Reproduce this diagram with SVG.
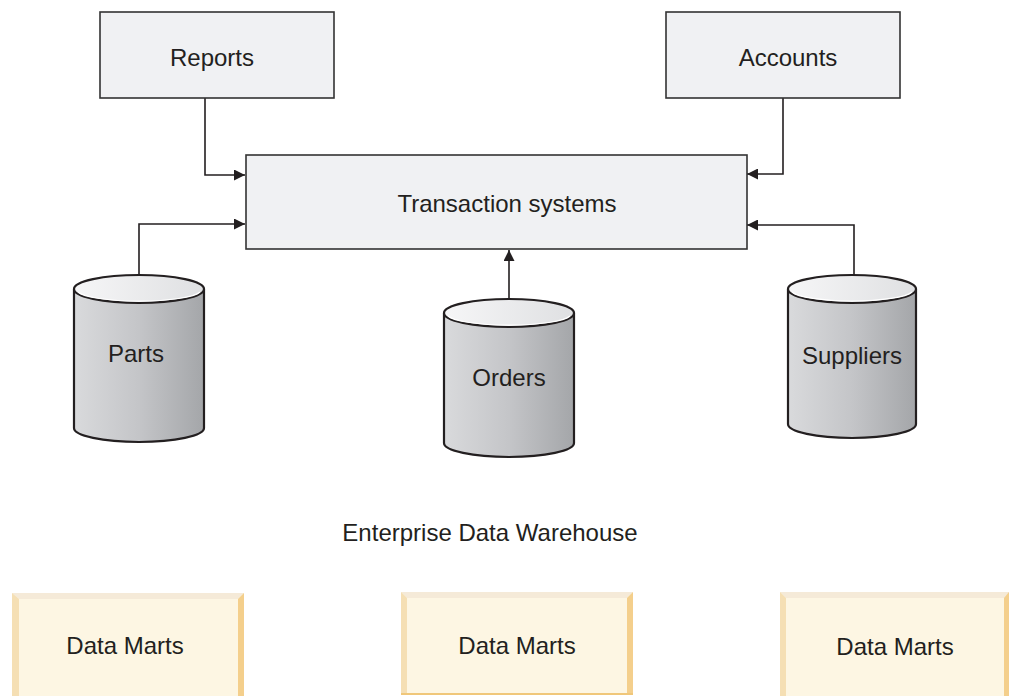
<svg xmlns="http://www.w3.org/2000/svg" width="1009" height="696" viewBox="0 0 1009 696">
  <defs>
    <linearGradient id="cylBody" x1="0" y1="0" x2="1" y2="0">
      <stop offset="0" stop-color="#d9dadc"/>
      <stop offset="0.5" stop-color="#c4c5c8"/>
      <stop offset="1" stop-color="#a4a6a9"/>
    </linearGradient>
    <linearGradient id="cylTop" x1="0" y1="0" x2="1" y2="0">
      <stop offset="0" stop-color="#f6f6f7"/>
      <stop offset="1" stop-color="#dfe0e2"/>
    </linearGradient>
    <marker id="arrow" viewBox="0 0 10 10" refX="10" refY="5" markerWidth="11" markerHeight="11" markerUnits="userSpaceOnUse" orient="auto">
      <path d="M0,0 L10,5 L0,10 z" fill="#231f20"/>
    </marker>
  </defs>
  <style>
    .box { fill: #f0f1f3; stroke: #333; stroke-width: 1.6; }
    .lbl { font-family: "Liberation Sans", Arial, sans-serif; font-size: 24px; fill: #231f20; text-anchor: middle; }
    .conn { fill: none; stroke: #231f20; stroke-width: 1.6; marker-end: url(#arrow); }
    .cyl-body { fill: url(#cylBody); stroke: #231f20; stroke-width: 2.2; }
    .cyl-top { fill: url(#cylTop); stroke: #231f20; stroke-width: 2.2; }
    .cyl-rim { fill: none; stroke: #ffffff; stroke-width: 1.2; }
    .dm-face { fill: #fdf6e3; }
    .dm-top { fill: #f5ead8; }
    .dm-left { fill: #f5dfb4; }
    .dm-right { fill: #f4cf8c; }
    .dm-bottom { fill: #f0c77a; }
  </style>

  <!-- connectors -->
  <g id="connectors">
    <path class="conn" d="M205,98 V175 H245"/>
    <path class="conn" d="M139,275 V224 H245"/>
    <path class="conn" d="M783,98 V174 H747"/>
    <path class="conn" d="M854,275 V225 H747"/>
    <path class="conn" d="M509,299 V250"/>
  </g>

  <g id="reports">
    <rect class="box" x="100" y="12" width="234" height="86"/>
    <text class="lbl" x="212" y="66">Reports</text>
  </g>

  <g id="accounts">
    <rect class="box" x="666" y="12" width="234" height="86"/>
    <text class="lbl" x="788" y="66">Accounts</text>
  </g>

  <g id="transaction-systems">
    <rect class="box" x="246" y="155" width="501" height="94"/>
    <text class="lbl" x="507" y="212">Transaction systems</text>
  </g>

  <g id="parts">
    <path class="cyl-body" d="M74,289 V428 A65,14 0 0 0 204,428 V289"/>
    <ellipse class="cyl-top" cx="139" cy="289" rx="65" ry="14"/>
    <path class="cyl-rim" d="M78,292 A62,11 0 0 0 200,292"/>
    <text class="lbl" x="136" y="362">Parts</text>
  </g>

  <g id="orders">
    <path class="cyl-body" d="M444,313 V443 A65,14 0 0 0 574,443 V313"/>
    <ellipse class="cyl-top" cx="509" cy="313" rx="65" ry="14"/>
    <path class="cyl-rim" d="M448,316 A62,11 0 0 0 570,316"/>
    <text class="lbl" x="509" y="386">Orders</text>
  </g>

  <g id="suppliers">
    <path class="cyl-body" d="M788,289 V424 A64,14 0 0 0 916,424 V289"/>
    <ellipse class="cyl-top" cx="852" cy="289" rx="64" ry="14"/>
    <path class="cyl-rim" d="M792,292 A61,11 0 0 0 912,292"/>
    <text class="lbl" x="852" y="364">Suppliers</text>
  </g>

  <text class="lbl" x="490" y="541">Enterprise Data Warehouse</text>

  <g id="data-marts-1">
    <rect class="dm-face" x="12" y="593" width="232" height="103"/>
    <polygon class="dm-top" points="12,593 244,593 238,599 19,599"/>
    <polygon class="dm-left" points="12,593 19,599 19,696 12,696"/>
    <polygon class="dm-right" points="244,593 238,599 238,696 244,696"/>
    <text class="lbl" x="125" y="654">Data Marts</text>
  </g>

  <g id="data-marts-2">
    <rect class="dm-face" x="401" y="592" width="232" height="103"/>
    <polygon class="dm-top" points="401,592 633,592 627,598 407,598"/>
    <polygon class="dm-left" points="401,592 407,598 407,695 401,695"/>
    <polygon class="dm-right" points="633,592 627,598 627,695 633,695"/>
    <rect class="dm-bottom" x="401" y="693" width="232" height="2"/>
    <text class="lbl" x="517" y="654">Data Marts</text>
  </g>

  <g id="data-marts-3">
    <rect class="dm-face" x="780" y="592" width="229" height="104"/>
    <polygon class="dm-top" points="780,592 1009,592 1009,598 786,598"/>
    <polygon class="dm-left" points="780,592 786,598 786,696 780,696"/>
    <polygon class="dm-right" points="1009,592 1004,598 1004,696 1009,696"/>
    <text class="lbl" x="895" y="655">Data Marts</text>
  </g>
</svg>
